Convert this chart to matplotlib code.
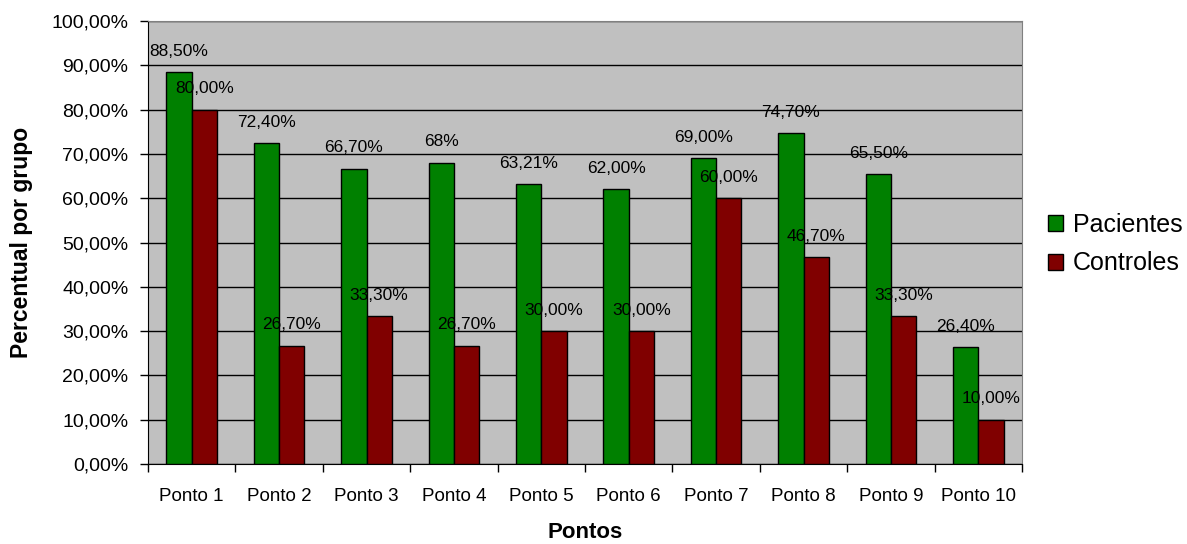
import matplotlib
matplotlib.use("Agg")
import matplotlib.pyplot as plt
import numpy as np

categories = ["Ponto 1", "Ponto 2", "Ponto 3", "Ponto 4", "Ponto 5",
              "Ponto 6", "Ponto 7", "Ponto 8", "Ponto 9", "Ponto 10"]
pacientes = [88.5, 72.4, 66.7, 68.0, 63.21, 62.0, 69.0, 74.7, 65.5, 26.4]
controles = [80.0, 26.7, 33.3, 26.7, 30.0, 30.0, 60.0, 46.7, 33.3, 10.0]
pac_labels = ["88,50%", "72,40%", "66,70%", "68%", "63,21%", "62,00%",
              "69,00%", "74,70%", "65,50%", "26,40%"]
con_labels = ["80,00%", "26,70%", "33,30%", "26,70%", "30,00%", "30,00%",
              "60,00%", "46,70%", "33,30%", "10,00%"]
yticks = [0, 10, 20, 30, 40, 50, 60, 70, 80, 90, 100]
ytick_labels = ["0,00%", "10,00%", "20,00%", "30,00%", "40,00%", "50,00%",
                "60,00%", "70,00%", "80,00%", "90,00%", "100,00%"]

plt.rcParams['font.family'] = ['Liberation Sans', 'DejaVu Sans']

W, H = 1187, 544
fig = plt.figure(figsize=(W/100, H/100), dpi=100)
L, R, T, B = 148, 1022, 21, 464
ax = fig.add_axes([L/W, 1 - B/H, (R-L)/W, (B-T)/H])
ax.set_facecolor("#C0C0C0")

x = np.arange(len(categories))
w = 0.29
ax.bar(x - w/2, pacientes, w, color="#008000", edgecolor="black", linewidth=1, label="Pacientes", zorder=3)
ax.bar(x + w/2, controles, w, color="#800000", edgecolor="black", linewidth=1, label="Controles", zorder=3)

for xi, v, t in zip(x - w/2, pacientes, pac_labels):
    ax.annotate(t, (xi, v), xytext=(0, 15), textcoords="offset points",
                ha="center", va="center", fontsize=12.5, zorder=4)
for xi, v, t in zip(x + w/2, controles, con_labels):
    ax.annotate(t, (xi, v), xytext=(0, 15), textcoords="offset points",
                ha="center", va="center", fontsize=12.5, zorder=4)

ax.set_xlim(-0.5, len(categories) - 0.5)
ax.set_ylim(0, 100)
ax.set_yticks(yticks)
ax.set_yticklabels(ytick_labels, fontsize=14)
ax.yaxis.grid(True, color="black", linewidth=1, zorder=1)
ax.set_axisbelow(True)

ax.set_xticks(np.arange(-0.5, len(categories), 1.0), minor=False)
ax.set_xticklabels([])
ax.set_xticks(x, minor=True)
ax.set_xticklabels(categories, minor=True, fontsize=13.5)
ax.tick_params(axis="x", which="minor", length=0, pad=17)
ax.tick_params(axis="x", which="major", length=6, direction="out", width=1)
ax.tick_params(axis="y", length=6, direction="out", width=1, pad=8)

for s in ["top", "right"]:
    ax.spines[s].set_color("#808080")
for s in ["left", "bottom"]:
    ax.spines[s].set_color("black")

ax.set_xlabel("Pontos", fontsize=16, fontweight="bold")
ax.xaxis.label.set_verticalalignment("baseline")
ax.xaxis.set_label_coords(0.5, (B - 538) / (B - T))
ax.set_ylabel("Percentual por grupo", fontsize=16.5, fontweight="bold")
ax.yaxis.label.set_verticalalignment("center")
ax.yaxis.set_label_coords((22 - L) / (R - L), 0.5)

fig.legend(loc="center left", bbox_to_anchor=(1048/W, 1 - 244/H), frameon=False,
           fontsize=18, handlelength=0.6, handleheight=0.6, handletextpad=0.4,
           labelspacing=0.6, borderpad=0, borderaxespad=0)

fig.savefig("out.png", dpi=100)
